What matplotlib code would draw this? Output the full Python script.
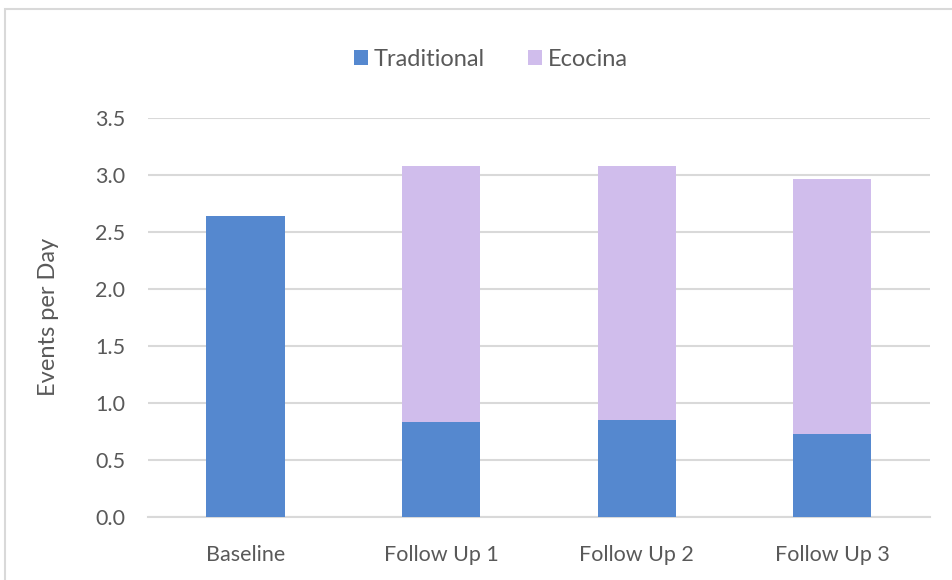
import matplotlib.pyplot as plt
from matplotlib.patches import Rectangle

# Cooking events per day by survey round
categories = ["Baseline", "Follow Up 1", "Follow Up 2", "Follow Up 3"]
traditional = [2.64, 0.83, 0.85, 0.73]
ecocina = [0.0, 2.25, 2.23, 2.23]
yticks = [0.0, 0.5, 1.0, 1.5, 2.0, 2.5, 3.0, 3.5]

plt.rcParams['font.family'] = ['Lato', 'DejaVu Sans']
text_color = "#595959"

fig = plt.figure(figsize=(9.53, 5.8), dpi=100)
ax = fig.add_axes([0.155, 0.109, 0.821, 0.688])

x = range(len(categories))
ax.bar(x, traditional, width=0.4, color="#5588CF", label="Traditional", zorder=3)
ax.bar(x, ecocina, width=0.4, bottom=traditional, color="#D0BDEC", label="Ecocina", zorder=3)

ax.set_xlim(-0.5, 3.5)
ax.set_ylim(0, 3.5)
ax.set_yticks(yticks)
ax.set_yticklabels([f"{v:.1f}" for v in yticks])
ax.set_xticks(list(x))
ax.set_xticklabels(categories)
ax.tick_params(axis="both", length=0, labelsize=15.5, colors=text_color)
ax.tick_params(axis="x", pad=20)
ax.tick_params(axis="y", pad=16)
ax.grid(axis="y", color="#D9D9D9", linewidth=1.5, zorder=0)
for side in ["top", "right", "left"]:
    ax.spines[side].set_visible(False)
ax.spines["bottom"].set_color("#D9D9D9")
ax.spines["bottom"].set_linewidth(1.5)

ax.set_ylabel("Events per Day", fontsize=17, color=text_color, labelpad=26)

fig.legend(loc="center", bbox_to_anchor=(0.515, 0.898), ncol=2, frameon=False,
           fontsize=17, labelcolor=text_color, handlelength=0.6, handleheight=0.6,
           handletextpad=0.25, columnspacing=1.8)

# light outer frame of the chart area
fig.patches.append(Rectangle((5 / 953, -0.05), 1.1, 1 - 9 / 580 + 0.05,
                             transform=fig.transFigure, fill=False,
                             edgecolor="#D9D9D9", linewidth=1.5))

fig.savefig("out.png", dpi=100)
